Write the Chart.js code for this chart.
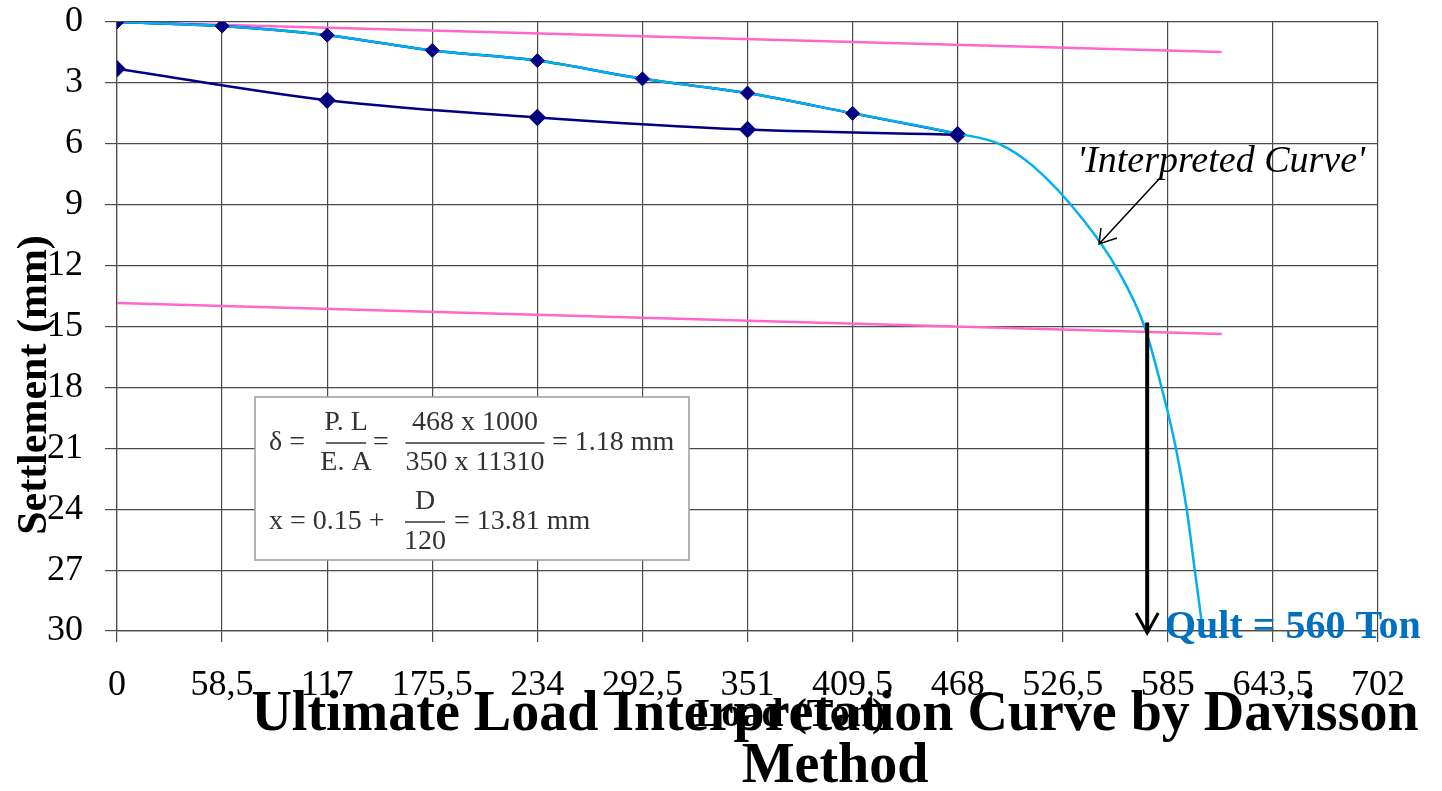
<!DOCTYPE html>
<html>
<head>
<meta charset="utf-8">
<script src="https://cdn.jsdelivr.net/npm/chart.js"></script>
<style>
  body { margin: 0; background: #fff; }
  canvas { display: block; }
</style>
</head>
<body>
<canvas id="chart" width="1442" height="791"></canvas>
<script>
// load test readings (Ton / mm)
const loadTon = [0, 58.5, 117, 175.5, 234, 292.5, 351, 409.5, 468];
const loadingSettle = [0, 0.2, 0.65, 1.4, 1.9, 2.8, 3.5, 4.5, 5.5];
const unloadTon = [0, 117, 234, 351, 468];
const unloadSettle = [2.3, 3.85, 4.7, 5.3, 5.55];

// interpreted curve
const curveTon = [0, 58.5, 117, 175.5, 234, 292.5, 351, 409.5, 468, 491, 510, 538, 557, 572, 581.5, 589.5, 595.5, 600, 604.5];
const curveSettle = [0, 0.2, 0.65, 1.4, 1.9, 2.8, 3.5, 4.5, 5.5, 6.0, 7.1, 9.75, 12.2, 15.0, 18.0, 21.0, 24.0, 27.0, 30];

// elastic line and offset line (Davisson)
const lineTon = [0, 615];
const elasticSettle = [0, 1.48];
const offsetSettle = [13.84, 15.37];

// Qult marker
const qultTon = 573.5;
const qultFrom = 14.8;
const qultTo = 30;

const xTicks = [0, 58.5, 117, 175.5, 234, 292.5, 351, 409.5, 468, 526.5, 585, 643.5, 702];
const yTicks = [0, 3, 6, 9, 12, 15, 18, 21, 24, 27, 30];

const pts = (xs, ys) => xs.map((x, i) => ({ x: x, y: ys[i] }));

const NAVY = '#000080';
const CYAN = '#00B0F0';
const PINK = '#FF66CC';
const SERIF = '"Liberation Serif", "DejaVu Serif", serif';

const bgPlugin = {
    id: 'bg',
    beforeDraw(chart) {
        const ctx = chart.ctx;
        ctx.save();
        ctx.fillStyle = '#fff';
        ctx.fillRect(0, 0, chart.width, chart.height);
        ctx.restore();
    }
};

function frac(ctx, cx, mid, w, num, den) {
    ctx.textAlign = 'center';
    ctx.fillText(num, cx, mid - 20);
    ctx.fillText(den, cx, mid + 20);
    ctx.beginPath();
    ctx.moveTo(cx - w / 2, mid);
    ctx.lineTo(cx + w / 2, mid);
    ctx.stroke();
}

const notesPlugin = {
    id: 'notes',
    afterDraw(chart) {
        const ctx = chart.ctx;
        const xs = chart.scales.x, ys = chart.scales.y;
        ctx.save();

        // formula box
        ctx.fillStyle = '#fff';
        ctx.fillRect(255, 397, 434, 163);
        ctx.strokeStyle = '#9a9a9a';
        ctx.lineWidth = 1.5;
        ctx.strokeRect(255, 397, 434, 163);

        ctx.fillStyle = '#333';
        ctx.strokeStyle = '#333';
        ctx.lineWidth = 1.3;
        ctx.font = '28px ' + SERIF;
        ctx.textBaseline = 'middle';
        ctx.textAlign = 'left';
        ctx.fillText('\u03B4 =', 269, 443);
        frac(ctx, 346, 443, 40, 'P. L', 'E. A');
        ctx.textAlign = 'left';
        ctx.fillText('=', 373, 443);
        frac(ctx, 475, 443, 139, '468 x 1000', '350 x 11310');
        ctx.textAlign = 'left';
        ctx.fillText('= 1.18 mm', 552, 443);

        ctx.fillText('x = 0.15 +', 269, 522);
        frac(ctx, 425, 522, 40, 'D', '120');
        ctx.textAlign = 'left';
        ctx.fillText('= 13.81 mm', 454, 522);

        // interpreted curve label + arrow
        ctx.fillStyle = '#000';
        ctx.strokeStyle = '#000';
        ctx.font = 'italic 38px ' + SERIF;
        ctx.textAlign = 'left';
        ctx.fillText("'Interpreted Curve'", 1077, 162);
        ctx.lineWidth = 1.5;
        ctx.beginPath();
        ctx.moveTo(1160, 178);
        ctx.lineTo(1099, 244);
        ctx.moveTo(1101, 228);
        ctx.lineTo(1099, 244);
        ctx.lineTo(1117, 238);
        ctx.stroke();

        // Qult arrow
        const ax = xs.getPixelForValue(qultTon);
        const y0 = ys.getPixelForValue(qultFrom);
        const y1 = ys.getPixelForValue(qultTo) + 2;
        ctx.lineWidth = 4;
        ctx.beginPath();
        ctx.moveTo(ax, y0);
        ctx.lineTo(ax, y1);
        ctx.stroke();
        ctx.lineWidth = 3;
        ctx.beginPath();
        ctx.moveTo(ax - 11, y1 - 20);
        ctx.lineTo(ax, y1);
        ctx.lineTo(ax + 11, y1 - 20);
        ctx.stroke();

        ctx.fillStyle = '#0070C0';
        ctx.font = 'bold 40px ' + SERIF;
        ctx.fillText('Qult = 560 Ton', 1165, 628);

        // axis titles
        ctx.fillStyle = '#000';
        ctx.font = 'bold 40px ' + SERIF;
        ctx.textAlign = 'center';
        ctx.fillText('Load (Ton)', 790, 716);
        ctx.save();
        ctx.translate(35, 385);
        ctx.rotate(-Math.PI / 2);
        ctx.font = 'bold 42px ' + SERIF;
        ctx.fillText('Settlement (mm)', 0, 0);
        ctx.restore();

        // chart title
        ctx.font = 'bold 56px ' + SERIF;
        ctx.fillText('Ultimate Load Interpretation Curve by Davisson', 835, 716);
        ctx.fillText('Method', 835, 768);

        ctx.restore();
    }
};

const gridColor = '#4a4a4a';

new Chart(document.getElementById('chart'), {
    type: 'line',
    data: {
        datasets: [
            {
                data: pts(loadTon, loadingSettle),
                showLine: false,
                pointStyle: 'rectRot',
                pointRadius: 7,
                backgroundColor: NAVY,
                borderColor: NAVY
            },
            {
                data: pts(curveTon, curveSettle),
                borderColor: CYAN,
                borderWidth: 2.5,
                pointRadius: 0,
                cubicInterpolationMode: 'monotone'
            },
            {
                data: pts(loadTon, loadingSettle),
                borderColor: NAVY,
                borderWidth: 2.5,
                pointRadius: 0,
                cubicInterpolationMode: 'monotone'
            },
            {
                data: pts(unloadTon, unloadSettle),
                borderColor: NAVY,
                backgroundColor: NAVY,
                borderWidth: 2.5,
                pointStyle: 'rectRot',
                pointRadius: 7,
                cubicInterpolationMode: 'monotone'
            },
            {
                data: pts(lineTon, elasticSettle),
                borderColor: PINK,
                borderWidth: 2.5,
                pointRadius: 0
            },
            {
                data: pts(lineTon, offsetSettle),
                borderColor: PINK,
                borderWidth: 2.5,
                pointRadius: 0
            }
        ]
    },
    options: {
        responsive: false,
        animation: false,
        devicePixelRatio: 1,
        layout: { padding: { top: 0, right: 64, left: 0, bottom: 0 } },
        plugins: {
            legend: { display: false },
            tooltip: { enabled: false },
            title: { display: false }
        },
        scales: {
            x: {
                type: 'linear',
                min: 0,
                max: 702,
                afterBuildTicks: (s) => { s.ticks = xTicks.map(v => ({ value: v })); },
                afterFit: (s) => { s.height = 160; },
                ticks: {
                    autoSkip: false,
                    maxRotation: 0,
                    padding: 22,
                    color: '#000',
                    font: { family: SERIF, size: 36 },
                    callback: (v) => String(v).replace('.', ',')
                },
                grid: { color: gridColor, lineWidth: 1.2, tickLength: 11 },
                border: { color: gridColor, width: 1.2 }
            },
            y: {
                type: 'linear',
                reverse: true,
                min: 0,
                max: 30,
                afterBuildTicks: (s) => { s.ticks = yTicks.map(v => ({ value: v })); },
                afterFit: (s) => { s.width = 117; s.paddingTop = 22; s.paddingBottom = 0; },
                ticks: {
                    autoSkip: false,
                    padding: 22,
                    color: '#000',
                    font: { family: SERIF, size: 36 }
                },
                grid: { color: gridColor, lineWidth: 1.2, tickLength: 12 },
                border: { color: gridColor, width: 1.2 }
            }
        }
    },
    plugins: [bgPlugin, notesPlugin]
});
</script>
</body>
</html>
